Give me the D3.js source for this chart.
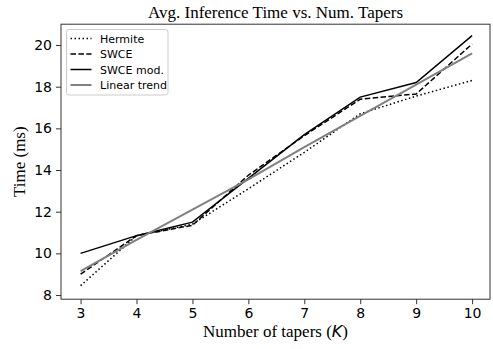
<!DOCTYPE html>
<html><head><meta charset="utf-8">
<script src="https://cdn.jsdelivr.net/npm/d3@7"></script>
<style>body{margin:0;background:#fff}svg{display:block}</style>
</head><body>
<script>
const tapers = [3, 4, 5, 6, 7, 8, 9, 10];
const hermite = [8.45, 10.85, 11.4, 13.1, 14.85, 16.7, 17.55, 18.3];
const swce = [9.0, 10.85, 11.35, 13.75, 15.65, 17.4, 17.65, 20.05];
const swceMod = [10.0, 10.85, 11.5, 13.6, 15.7, 17.5, 18.2, 20.45];
const linearTrend = [9.15, 10.65, 12.1, 13.55, 15.1, 16.6, 18.1, 19.6];
const seriesNames = ["Hermite", "SWCE", "SWCE mod.", "Linear trend"];
const yTicks = [8, 10, 12, 14, 16, 18, 20];

const W = 493, H = 349;
const svg = d3.select("body").append("svg").attr("width", W).attr("height", H);
const x = d3.scaleLinear().domain([2.65, 10.32]).range([61, 490]);
const y = d3.scaleLinear().domain([7.8, 21.0]).range([299.2, 24.2]);

const styles = [
  {color: "#000", width: 1.5, dash: "1.5,2.5"},
  {color: "#000", width: 1.5, dash: "5.5,2.4"},
  {color: "#000", width: 1.5, dash: null},
  {color: "#808080", width: 2, dash: null}
];
const data = [hermite, swce, swceMod, linearTrend];

const line = d3.line().x((d, i) => x(tapers[i])).y(d => y(d));
data.forEach((vals, k) => {
  const p = svg.append("path").datum(vals).attr("d", line)
    .attr("fill", "none").attr("stroke", styles[k].color)
    .attr("stroke-width", styles[k].width);
  if (styles[k].dash) p.attr("stroke-dasharray", styles[k].dash);
});

// frame
svg.append("rect").attr("x", 61).attr("y", 24.2).attr("width", 429).attr("height", 275)
  .attr("fill", "none").attr("stroke", "#333").attr("stroke-width", 1);

const xAxis = svg.append("g").attr("transform", "translate(0,299.2)")
  .call(d3.axisBottom(x).tickValues(tapers).tickSize(5).tickPadding(4).tickFormat(d3.format("d")));
const yAxis = svg.append("g").attr("transform", "translate(61,0)")
  .call(d3.axisLeft(y).tickValues(yTicks).tickSize(5).tickPadding(4));
[xAxis, yAxis].forEach(g => {
  g.select(".domain").remove();
  g.selectAll("line").attr("stroke", "#333");
  g.selectAll("text").attr("font-family", "DejaVu Sans").attr("font-size", 14).attr("fill", "#000");
});

svg.append("text").attr("x", 275.5).attr("y", 18).attr("text-anchor", "middle")
  .attr("font-family", "Liberation Serif").attr("font-size", 17).text("Avg. Inference Time vs. Num. Tapers");

const xl = svg.append("text").attr("x", 275.5).attr("y", 337).attr("text-anchor", "middle")
  .attr("font-family", "Liberation Serif").attr("font-size", 17);
xl.append("tspan").text("Number of tapers (");
xl.append("tspan").attr("font-family", "DejaVu Sans").attr("font-style", "italic").attr("font-size", 16).text("K");
xl.append("tspan").text(")");

svg.append("text").attr("transform", "translate(25,161.7) rotate(-90)").attr("text-anchor", "middle")
  .attr("font-family", "Liberation Serif").attr("font-size", 17).text("Time (ms)");

// legend
const lg = svg.append("g");
lg.append("rect").attr("x", 66.5).attr("y", 29.5).attr("width", 101.5).attr("height", 65.5)
  .attr("rx", 2.5).attr("fill", "#fff").attr("fill-opacity", 0.8).attr("stroke", "#ccc").attr("stroke-width", 1);
seriesNames.forEach((n, k) => {
  const yy = 38.5 + k * 15.5;
  const l = lg.append("line").attr("x1", 70.5).attr("x2", 91.5).attr("y1", yy).attr("y2", yy)
    .attr("stroke", styles[k].color).attr("stroke-width", styles[k].width);
  if (styles[k].dash) l.attr("stroke-dasharray", styles[k].dash);
  lg.append("text").attr("x", 100).attr("y", yy + 4).attr("font-family", "DejaVu Sans")
    .attr("font-size", 11).attr("fill", "#000").text(n);
});
</script>
</body></html>
